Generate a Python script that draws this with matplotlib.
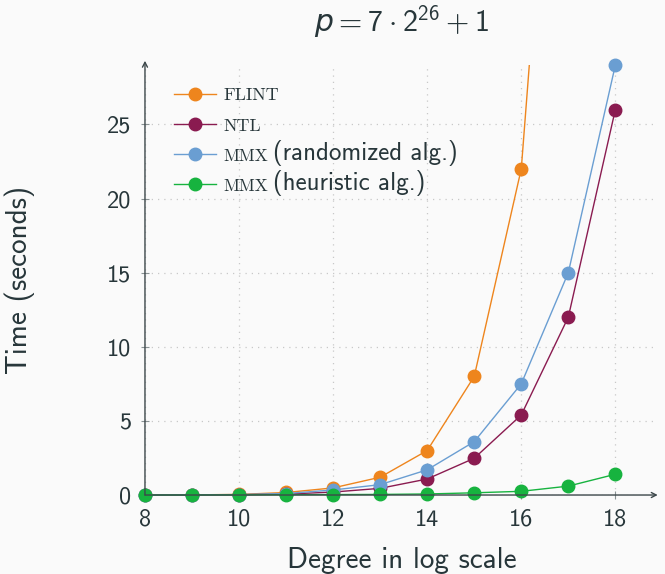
import matplotlib.pyplot as plt

# degree (log2) vs time in seconds
degrees = [8, 9, 10, 11, 12, 13, 14, 15, 16, 17, 18]
flint = [0.0, 0.01, 0.04, 0.17, 0.48, 1.2, 3.0, 8.0, 22.0, 63.0]
ntl = [0.0, 0.01, 0.02, 0.06, 0.2, 0.45, 1.08, 2.48, 5.4, 12.0, 26.0]
mmx_rand = [0.0, 0.01, 0.03, 0.1, 0.34, 0.7, 1.7, 3.6, 7.5, 15.0, 29.0]
mmx_heur = [0.0, 0.0, 0.01, 0.02, 0.03, 0.04, 0.07, 0.15, 0.25, 0.6, 1.4]

names = ['FLINT', 'NTL', 'MMX', 'MMX']
suffixes = ['', '', '(randomized alg.)', '(heuristic alg.)']
colors = ['#ee851d', '#8a1b50', '#6a9ed2', '#17b33f']

xticks = [8, 10, 12, 14, 16, 18]
yticks = [0, 5, 10, 15, 20, 25]

plt.rcParams['font.family'] = ['cmss10', 'DejaVu Sans']
plt.rcParams['axes.unicode_minus'] = False
plt.rcParams['mathtext.fontset'] = 'custom'
plt.rcParams['mathtext.rm'] = 'cmss10'
plt.rcParams['mathtext.it'] = 'DejaVu Sans:italic'

txt = '#27363a'
bg = '#fafafa'

fig = plt.figure(figsize=(6.65, 5.74), dpi=100, facecolor=bg)
ax = fig.add_axes([0.218, 0.1376, 0.771, 0.749], facecolor=bg)

ax.plot(degrees[:len(flint)], flint, '-o', color=colors[0], lw=1, ms=9,
        label=names[0])
ax.plot(degrees, ntl, '-o', color=colors[1], lw=1, ms=9,
        label=names[1], clip_on=False)
ax.plot(degrees, mmx_rand, '-o', color=colors[2], lw=1, ms=9,
        label=names[2], clip_on=False)
ax.plot(degrees, mmx_heur, '-o', color=colors[3], lw=1, ms=9,
        label=names[3], clip_on=False)

ax.set_xlim(8, 18.9)
ax.set_ylim(0, 29)
ax.set_xticks(xticks)
ax.set_yticks(yticks)
ax.grid(True, linestyle=(0, (1, 4)), color='#c8c8c8', lw=0.9)

for s in ax.spines.values():
    s.set_visible(False)
arrow = dict(arrowstyle='->,head_length=0.35,head_width=0.18',
             color='#3c474a', lw=1, shrinkA=0, shrinkB=0)
ax.annotate('', xy=(1.0, 0), xytext=(0, 0), xycoords='axes fraction',
            arrowprops=arrow)
ax.annotate('', xy=(0, 1.01), xytext=(0, 0), xycoords='axes fraction',
            arrowprops=arrow)

ax.tick_params(direction='inout', length=6, width=0.8, color='#8a9294',
               labelcolor=txt, labelsize=17.5, pad=7)

ax.set_xlabel('Degree in log scale', fontsize=21, color=txt)
ax.xaxis.set_label_coords(0.5, -0.12)
ax.set_ylabel('Time (seconds)', fontsize=21, color=txt)
ax.yaxis.set_label_coords(-0.215, 0.5)
ax.set_title(r'$p = 7\cdot 2^{26}+1$', fontsize=21.5, color=txt, pad=23)

leg = ax.legend(loc='upper left', bbox_to_anchor=(0.025, 0.985), frameon=False,
                prop={'family': 'cmr10', 'size': 13}, handlelength=2.3,
                handletextpad=0.45, labelspacing=0.8, labelcolor=txt)
for t, suf in zip(leg.get_texts(), suffixes):
    if t.get_text() == 'MMX':
        t.set_fontsize(12.5)
    if suf:
        ax.annotate(suf, xy=(1, 0), xycoords=t, xytext=(3, -1.5),
                    textcoords='offset points', va='bottom', ha='left',
                    fontsize=18, color=txt, zorder=10,
                    annotation_clip=False)

plt.savefig('out.png', dpi=100, facecolor=bg)
